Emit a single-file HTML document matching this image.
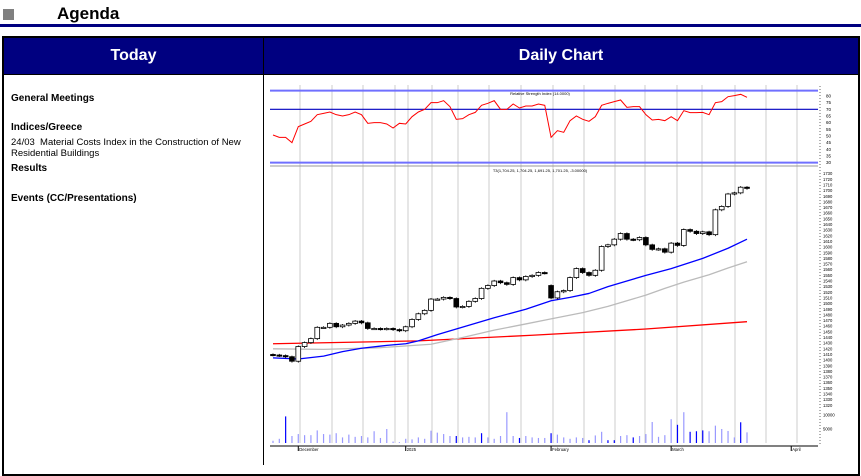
<!DOCTYPE html>
<html><head><meta charset="utf-8">
<style>
body{margin:0;width:861px;height:465px;overflow:hidden;background:#fff;font-family:"Liberation Sans",Tahoma,sans-serif;position:relative}
.abs{position:absolute}
.lt{font-size:10px;color:#000;left:11px;font-family:"Liberation Sans",sans-serif}
.b{font-weight:bold}
.hd{background:#000080;color:#fff;font-size:16px;font-weight:bold;text-align:center;line-height:36px;font-family:"Liberation Sans",sans-serif}
</style></head><body>
<div class="abs" style="left:3px;top:9px;width:11px;height:11px;background:#808080"></div>
<div class="abs b" style="left:57px;top:4px;font-size:17px">Agenda</div>
<div class="abs" style="left:0;top:24px;width:861px;height:3px;background:#000080"></div>
<div class="abs" style="left:2px;top:36px;width:858px;height:440px;border:2px solid #000;box-sizing:border-box"></div>
<div class="abs hd" style="left:4px;top:38px;width:259px;height:36px">Today</div>
<div class="abs hd" style="left:264px;top:38px;width:594px;height:36px">Daily Chart</div>
<div class="abs" style="left:2px;top:74px;width:858px;height:1px;background:#000"></div>
<div class="abs" style="left:263px;top:36px;width:1px;height:429px;background:#000"></div>
<div class="abs lt b" style="top:93px">General Meetings</div>
<div class="abs lt b" style="top:122px">Indices/Greece</div>
<div class="abs lt" style="top:137px;width:250px;line-height:11px;font-size:9.5px">24/03&nbsp; Material Costs Index in the Construction of New Residential Buildings</div>
<div class="abs lt b" style="top:163px">Results</div>
<div class="abs lt b" style="top:193px">Events (CC/Presentations)</div>

<svg class="abs" style="left:0;top:0" width="861" height="465" id="chart"></svg>
<script>
const closes=[1409,1408,1406,1398,1424,1431,1438,1458,1458,1465,1459,1462,1465,1469,1466,1456,1456,1455,1456,1454,1452,1459,1472,1482,1488,1508,1508,1511,1509,1494,1495,1504,1509,1527,1532,1540,1537,1534,1546,1542,1548,1550,1555,1554,1510,1521,1523,1546,1562,1555,1550,1559,1601,1604,1614,1624,1614,1613,1617,1604,1596,1597,1591,1607,1603,1631,1628,1624,1627,1622,1666,1672,1694,1696,1706,1704];
const rsi=[50.75,49,49,45,57,59,61,66,67,68,66,65,66,68,66,59.5,60,60,59,56,59.5,59,64.5,68,70,75,75,76.5,72,62.5,63,66,67.7,73,74.5,76.5,70,70,74,71,72.5,72.5,74,73,49,54,52.75,61.5,65,62.5,61,64.5,73,74.5,75.75,77,71.5,72,72,66,62,62.5,61.5,64.5,61.5,69,67.5,67.5,67.7,66,75,75.75,79.5,80.25,81.25,79];
const volumes=[800,1500,9500,2500,3200,2800,2800,4500,3200,3000,3500,2000,3000,2200,2500,2000,4200,1800,5000,500,300,1500,1300,2000,1500,4400,3700,3200,2500,2500,2000,2200,2000,3500,2000,1500,2500,11000,2500,1800,2500,2000,1800,1800,3500,3000,2000,1500,2000,1800,1000,2700,4000,1000,1000,2500,2800,2000,2500,3200,7500,2200,2800,8500,6500,11000,4000,4200,4500,4200,6200,5000,4300,2000,7400,3800];
const darkVol=[2,29,33,39,44,50,53,54,57,64,66,67,68,74];
const blueIdx=[0,4,8,11,14,18,21,23,26,29,35,40,44,47,50,53,56,59,63,68,72,75];
const blueVal=[1404,1402,1407,1415,1421,1426,1429,1434,1445,1455,1475,1490,1505,1511,1518,1530,1540,1550,1562,1580,1598,1614];
const grayIdx=[0,8,17,25,30,35,40,44,49,53,56,59,62,65,69,72,75];
const grayVal=[1420,1419,1422,1428,1440,1453,1464,1473,1484,1495,1505,1515,1527,1538,1551,1563,1574];
const redIdx=[0,23,41,59,75];
const redVal=[1429,1434,1444,1455,1468];
const rsiTicks=[80,75,70,65,60,55,50,45,40,35,30];
const priceTicks=[];for(let p=1730;p>=1320;p-=10)priceTicks.push(p);
const monthLabels=["December","2025","February","March","April"];
const monthIdx=[4,21,44,63,82];

const svg=document.getElementById('chart');const NS='http://www.w3.org/2000/svg';
function el(t,a,p){const e=document.createElementNS(NS,t);for(const k in a)e.setAttribute(k,a[k]);(p||svg).appendChild(e);return e;}
const n=closes.length;
const X=i=>273+i*(474/(n-1));
const PY=p=>179.3+(1720-p)*0.565;
const RY=v=>96+(80-v)*1.333;
const VY=v=>443-v*0.0028;
[300,332,363,395,408,432,458,489,521,553,584,615,645,677,702,735,766,797].forEach(gx=>{
 const g=el('line',{x1:gx,x2:gx,y1:85,y2:443,stroke:'#ccc','stroke-width':1});
 });
[[84,'#7070ff',2],[70,'#0000c0',1.2],[30,'#7070ff',2]].forEach(r=>{
 const l=el('line',{x1:270,x2:818,y1:RY(r[0]),y2:RY(r[0]),stroke:r[1],'stroke-width':r[2]});
 });
el('line',{x1:270,x2:818,y1:166,y2:166,stroke:'#999','stroke-width':1});
const rt=el('text',{x:540,y:95,'font-size':4,'text-anchor':'middle'});rt.textContent='Relative Strength Index (14.0000)';

const rl=el('polyline',{points:rsi.map((v,i)=>X(i)+','+RY(v)).join(' '),fill:'none',stroke:'#ff0000','stroke-width':1});

el('line',{x1:820,x2:820,y1:86,y2:446,stroke:'#000','stroke-width':0.6,'stroke-dasharray':'1,2'});
rsiTicks.forEach(v=>{const t=el('text',{x:826,y:RY(v)+1.5,'font-size':4.5});t.textContent=v;
 });
priceTicks.forEach(v=>{const t=el('text',{x:823,y:PY(v)+1.5,'font-size':4.2});t.textContent=v;
 });
[[10000,'10000'],[5000,'5000']].forEach(v=>{const t=el('text',{x:823,y:VY(v[0])+1.5,'font-size':4.2});t.textContent=v[1];
 });
const pt=el('text',{x:540,y:172,'font-size':4,'text-anchor':'middle'});pt.textContent='T3(1,704.25, 1,704.25, 1,691.25, 1,701.25, -3.00000)';

function ma(idx,val,col,name,w){const l=el('polyline',{points:idx.map((i,k)=>X(i)+','+PY(val[k])).join(' '),fill:'none',stroke:col,'stroke-width':w,'stroke-linejoin':'round'});
 }
ma(redIdx,redVal,'#ff0000','ma-long-line',1.3);
ma(grayIdx,grayVal,'#bbbbbb','ma-mid-line',1.3);
ma(blueIdx,blueVal,'#0000ff','ma-short-line',1.3);
closes.forEach((c,i)=>{
 const o=i===44?1532:(i?closes[i-1]:1410);
 const hi=Math.max(o,c)+2,lo=Math.min(o,c)-2.5;
 const g=el('g',{});
 el('line',{x1:X(i),x2:X(i),y1:PY(hi),y2:PY(lo),stroke:'#000','stroke-width':0.8},g);
 const top=PY(Math.max(o,c)),h=Math.max(1.2,PY(Math.min(o,c))-top);
 el('rect',{x:X(i)-2.4,y:top,width:4.8,height:h,fill:c<o?'#000':'#fff',stroke:'#000','stroke-width':0.8},g);
});
volumes.forEach((v,i)=>{const b=el('line',{x1:X(i),x2:X(i),y1:443,y2:VY(v),stroke:darkVol.includes(i)?'#0000ff':'#9999ff','stroke-width':1.2});
 });
const ax=el('line',{x1:270,x2:818,y1:446,y2:446,stroke:'#000','stroke-width':1});

monthLabels.forEach((m,k)=>{const x=273+monthIdx[k]*(474/(n-1));
 el('line',{x1:x,x2:x,y1:446,y2:451,stroke:'#000','stroke-width':1});
 const t=el('text',{x:x+1,y:451,'font-size':4.2});t.textContent=m;
 });
</script>
</body></html>
